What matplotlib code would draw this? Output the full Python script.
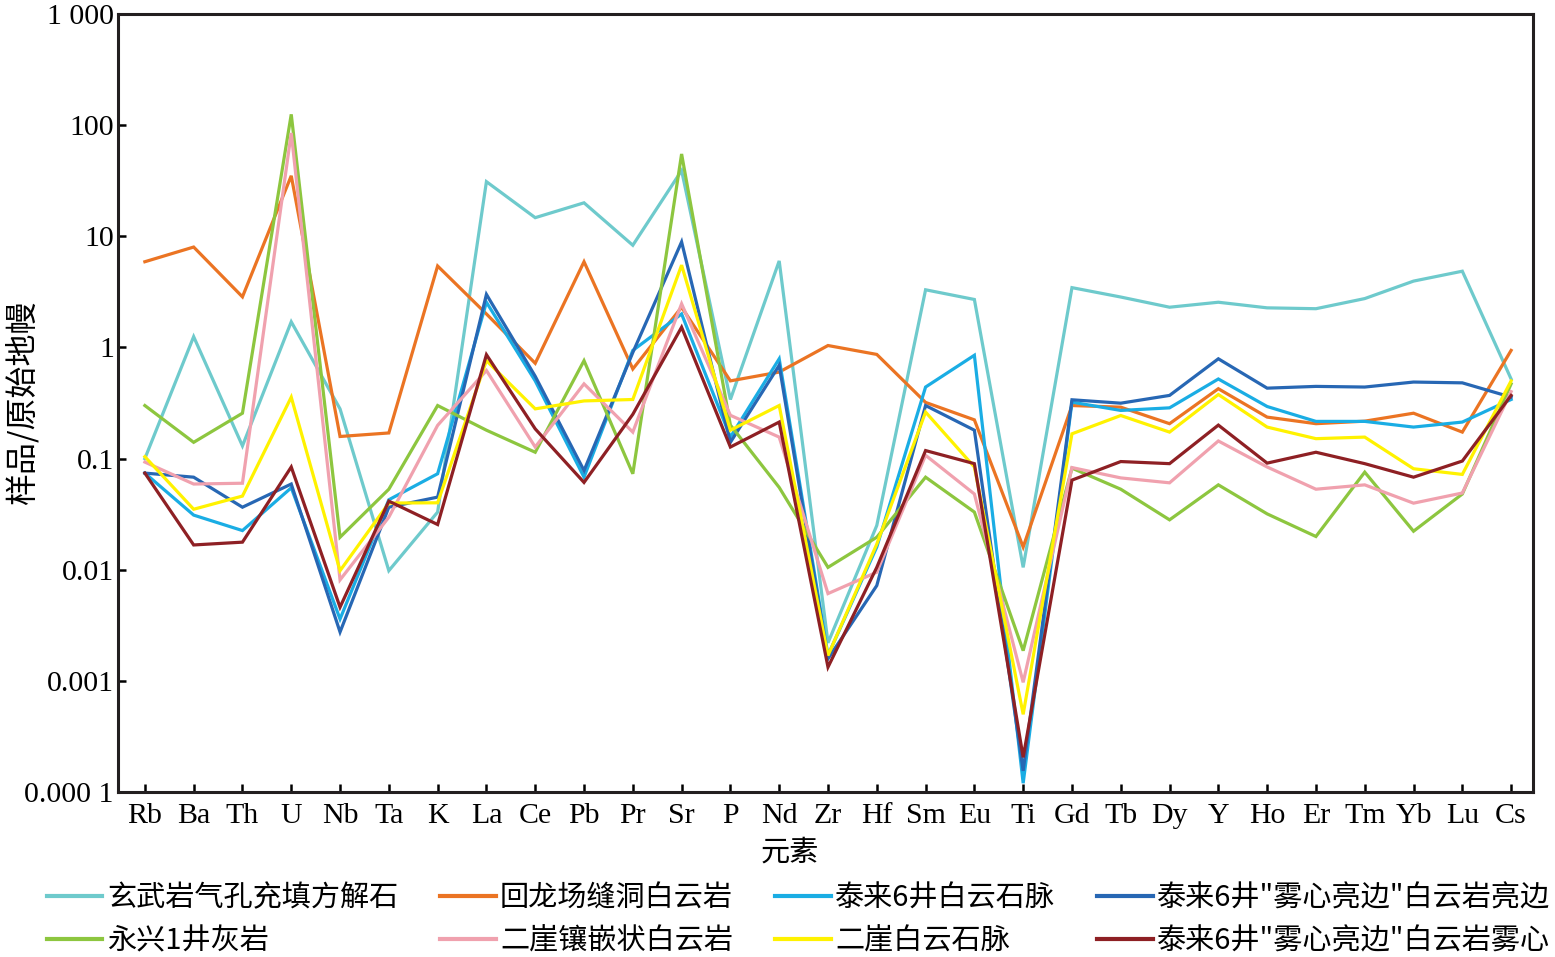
import numpy as np
import matplotlib
matplotlib.use("Agg")
from matplotlib import pyplot as plt
from matplotlib.ticker import FixedLocator, NullLocator

elements = ["Rb", "Ba", "Th", "U", "Nb", "Ta", "K", "La", "Ce", "Pb", "Pr", "Sr", "P", "Nd", "Zr",
            "Hf", "Sm", "Eu", "Ti", "Gd", "Tb", "Dy", "Y", "Ho", "Er", "Tm", "Yb", "Lu", "Cs"]

basalt_calcite = [0.1, 1.25, 0.13, 1.7, 0.28, 0.0098, 0.033, 31, 14.7, 20, 8.3, 39, 0.34, 6.0, 0.0022,
                  0.025, 3.3, 2.7, 0.0105, 3.45, 2.84, 2.3, 2.55, 2.27, 2.23, 2.75, 3.95, 4.85, 0.52]
huilongchang = [5.9, 8.0, 2.85, 35, 0.158, 0.17, 5.4, 2.0, 0.72, 5.9, 0.64, 2.3, 0.5, 0.6, 1.04,
                0.865, 0.32, 0.223, 0.016, 0.3, 0.29, 0.206, 0.425, 0.236, 0.206, 0.217, 0.256, 0.173, 0.94]
tailai_vein = [0.074, 0.031, 0.0225, 0.0546, 0.0036, 0.0426, 0.073, 2.55, 0.5, 0.068, 0.94, 2.0, 0.156, 0.79, 0.0017,
               0.016, 0.44, 0.85, 0.00012, 0.322, 0.271, 0.286, 0.52, 0.294, 0.216, 0.216, 0.192, 0.213, 0.34]
tailai_rim = [0.074, 0.068, 0.0365, 0.059, 0.00275, 0.0365, 0.045, 3.0, 0.55, 0.078, 0.9, 8.9, 0.14, 0.69, 0.00158,
              0.0072, 0.3, 0.18, 0.000155, 0.338, 0.315, 0.37, 0.79, 0.43, 0.446, 0.44, 0.488, 0.48, 0.357]
yongxing = [0.30, 0.14, 0.256, 125, 0.0196, 0.053, 0.30, 0.18, 0.114, 0.76, 0.073, 55, 0.2, 0.055, 0.0105,
            0.0196, 0.068, 0.033, 0.00187, 0.082, 0.053, 0.0281, 0.058, 0.0318, 0.0199, 0.0755, 0.0222, 0.048, 0.47]
erya_mosaic = [0.093, 0.059, 0.06, 85, 0.0081, 0.0297, 0.199, 0.62, 0.127, 0.47, 0.173, 2.47, 0.245, 0.156, 0.0061,
               0.0095, 0.107, 0.048, 0.00097, 0.083, 0.067, 0.0605, 0.144, 0.084, 0.053, 0.058, 0.0397, 0.049, 0.4]
erya_vein = [0.104, 0.035, 0.046, 0.357, 0.0098, 0.0398, 0.04, 0.76, 0.28, 0.33, 0.34, 5.5, 0.18, 0.3, 0.00169,
             0.017, 0.262, 0.084, 0.0005, 0.167, 0.244, 0.173, 0.377, 0.192, 0.151, 0.156, 0.081, 0.072, 0.5]
tailai_core = [0.074, 0.0167, 0.0177, 0.084, 0.0046, 0.0414, 0.0255, 0.86, 0.185, 0.061, 0.25, 1.52, 0.127, 0.213, 0.00133,
               0.0105, 0.118, 0.09, 0.000205, 0.064, 0.094, 0.09, 0.2, 0.091, 0.114, 0.09, 0.068, 0.095, 0.37]

names = ["玄武岩气孔充填方解石", "回龙场缝洞白云岩", "泰来6井白云石脉", "泰来6井\"雾心亮边\"白云岩亮边",
         "永兴1井灰岩", "二崖镶嵌状白云岩", "二崖白云石脉", "泰来6井\"雾心亮边\"白云岩雾心"]
series = [basalt_calcite, huilongchang, tailai_vein, tailai_rim,
          yongxing, erya_mosaic, erya_vein, tailai_core]
colors = ["#6ECACC", "#EB7423", "#1AADE4", "#2767B4", "#8DC63F", "#F0A1AE", "#FFF200", "#8E2024"]

y_ticks = [1e-4, 1e-3, 1e-2, 1e-1, 1, 10, 100, 1000]
y_labels = ["0.000 1", "0.001", "0.01", "0.1", "1", "10", "100", "1 000"]

cjk = ["Noto Sans CJK SC", "DejaVu Sans"]
serif = ["Liberation Serif", "DejaVu Serif"]

fig = plt.figure(figsize=(15.55, 9.57), dpi=100)
ax = fig.add_axes([0.0759, 0.1724, 0.9100, 0.8130])

x = np.arange(len(elements))
handles = []
for vals, name, col in zip(series, names, colors):
    ln, = ax.plot(x, vals, color=col, lw=2.3, label=name, solid_joinstyle="miter")
    handles.append(ln)

ax.set_yscale("log")
ax.set_ylim(1e-4, 1000)
ax.set_xlim(-0.55, 28.45)
ax.yaxis.set_major_locator(FixedLocator(y_ticks))
ax.yaxis.set_minor_locator(NullLocator())
ax.set_yticklabels(y_labels, family=serif, fontsize=21.5)
ax.set_xticks(x)
ax.set_xticklabels(elements, family=serif, fontsize=21.5)
ax.tick_params(direction="in", length=6, width=1.8)
ax.tick_params(axis="x", pad=8)
ax.tick_params(axis="y", pad=3)
for sp in ax.spines.values():
    sp.set_linewidth(2.2)
    sp.set_color("#231F20")

ax.set_xlabel("元素", family=cjk, fontsize=21)
ax.xaxis.set_label_coords(0.475, -0.058)
ax.set_ylabel("样品/原始地幔", family=cjk, fontsize=23)
ax.yaxis.set_label_coords(-0.068, 0.5)
ax.yaxis.label.set_va("center")

# legend is filled column by column, so reorder to get rows
order = [0, 4, 1, 5, 2, 6, 3, 7]
leg = fig.legend(handles=[handles[i] for i in order], loc="upper left", bbox_to_anchor=(0.0302, 0.077), ncol=4,
                 frameon=False, prop={"family": cjk, "size": 21}, handlelength=1.9,
                 handletextpad=0.15, columnspacing=1.45, labelspacing=0.45, borderaxespad=0, borderpad=0)
for h in leg.legend_handles:
    h.set_linewidth(3)

fig.savefig("out.png", dpi=100)
